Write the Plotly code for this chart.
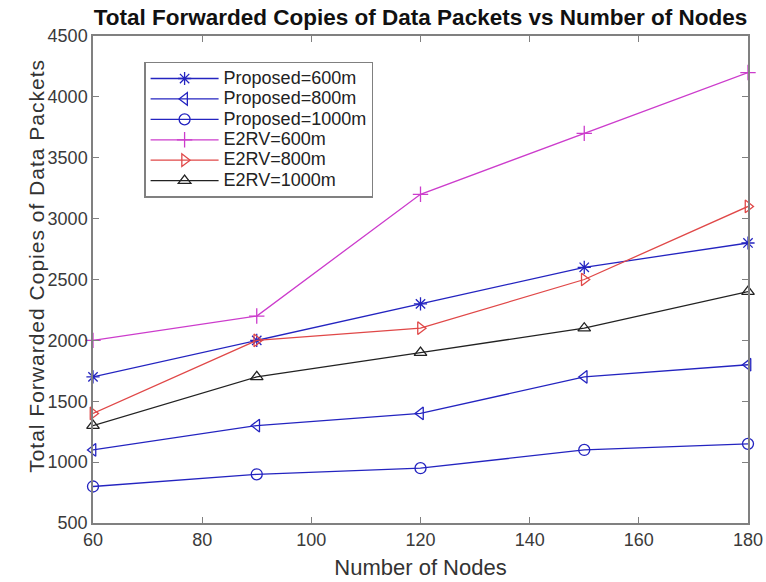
import plotly.graph_objects as go

nodes = [60, 90, 120, 150, 180]
proposed_600 = [1700, 2000, 2300, 2600, 2800]
proposed_800 = [1100, 1300, 1400, 1700, 1800]
proposed_1000 = [800, 900, 950, 1100, 1150]
e2rv_600 = [2000, 2200, 3200, 3700, 4200]
e2rv_800 = [1400, 2000, 2100, 2500, 3100]
e2rv_1000 = [1300, 1700, 1900, 2100, 2400]

series = [
    ("Proposed=600m", proposed_600, "#2424c0", "asterisk-open"),
    ("Proposed=800m", proposed_800, "#2424c0", "triangle-left-open"),
    ("Proposed=1000m", proposed_1000, "#2424c0", "circle-open"),
    ("E2RV=600m", e2rv_600, "#cc3ccc", "cross-thin-open"),
    ("E2RV=800m", e2rv_800, "#e04848", "triangle-right-open"),
    ("E2RV=1000m", e2rv_1000, "#222222", "triangle-up-open"),
]

fig = go.Figure()
for name, vals, color, sym in series:
    fig.add_trace(go.Scatter(
        x=nodes, y=vals, name='<span style="font-size:18px">' + name + '</span>',
        mode="lines+markers",
        line=dict(color=color, width=1.3),
        marker=dict(symbol=sym, size=11, color=color, line=dict(color=color, width=1.3)),
        cliponaxis=False,
    ))

axis_common = dict(
    showgrid=False, zeroline=False, showline=True, linecolor="#808080", linewidth=1.5,
    mirror="ticks", ticks="inside", ticklen=6, tickcolor="#808080", tickwidth=1,
    tickfont=dict(family="Liberation Sans, Arial", size=18, color="#3a3a3a"),
    automargin=False,
)

fig.update_layout(
    width=766, height=582,
    margin=dict(l=93, r=18, t=36, b=59),
    paper_bgcolor="white", plot_bgcolor="white",
    title=dict(text="<b>Total Forwarded Copies of Data Packets vs Number of Nodes</b>",
               x=0.5, xref="paper", xanchor="center", y=0.971, yref="container", yanchor="middle",
               font=dict(family="Liberation Sans, Arial", size=22.5, color="#111111")),
    xaxis=dict(range=[60, 180], tickvals=[60, 80, 100, 120, 140, 160, 180],
               title=dict(text="Number of Nodes", standoff=10,
                          font=dict(family="Liberation Sans, Arial", size=22, color="#333333")),
               **axis_common),
    yaxis=dict(range=[500, 4500], tickvals=[500, 1000, 1500, 2000, 2500, 3000, 3500, 4000, 4500],
               **axis_common),
    annotations=[dict(text='<span style="letter-spacing:1px">Total Forwarded Copies of Data Packets</span>',
                      textangle=-90,
                      xref="paper", yref="paper", x=-0.0855, y=0.528,
                      xanchor="center", yanchor="middle", showarrow=False,
                      font=dict(family="Liberation Sans, Arial", size=21, color="#333333"))],
    legend=dict(x=0.078, y=0.947, xanchor="left", yanchor="top",
                bgcolor="white", bordercolor="#808080", borderwidth=1.5,
                font=dict(family="Liberation Sans, Arial", size=13.4, color="#222222"),
                tracegroupgap=0, itemwidth=68),
    showlegend=True,
)

fig.write_html("out.html")
